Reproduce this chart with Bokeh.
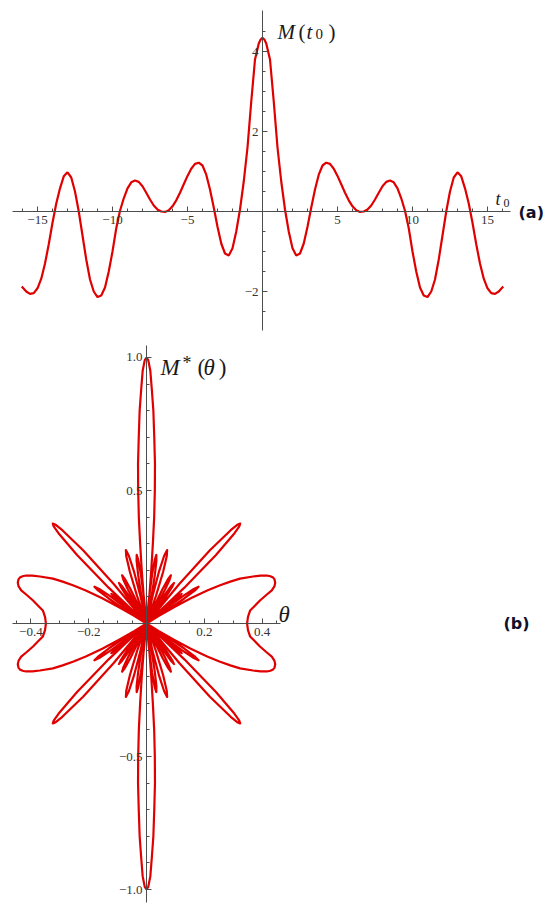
import numpy as np
from bokeh.plotting import figure
from bokeh.layouts import column
from bokeh.models import Label, FixedTicker, Range1d
from bokeh.embed import file_html
from bokeh.resources import INLINE

# ---------------- Panel (a): M(t0) ----------------
t0 = [-16.05, -15.75, -15.5, -15.25, -15.0, -14.75, -14.5, -14.25, -14.0, -13.75, -13.5, -13.25,
      -13.0, -12.75, -12.5, -12.25, -12.0, -11.75, -11.5, -11.25, -11.0, -10.75, -10.5, -10.25,
      -10.0, -9.75, -9.5, -9.25, -9.0, -8.75, -8.5, -8.25, -8.0, -7.75, -7.5, -7.25, -7.0, -6.75,
      -6.5, -6.25, -6.0, -5.75, -5.5, -5.25, -5.0, -4.75, -4.5, -4.25, -4.0, -3.75, -3.5, -3.25,
      -3.0, -2.75, -2.5, -2.25, -2.0, -1.75, -1.5, -1.25, -1.0, -0.75, -0.5, -0.25, -0.125, 0.0,
      0.125, 0.25, 0.5, 0.75, 1.0, 1.25, 1.5, 1.75, 2.0, 2.25, 2.5, 2.75, 3.0, 3.25, 3.5, 3.75,
      4.0, 4.25, 4.5, 4.75, 5.0, 5.25, 5.5, 5.75, 6.0, 6.25, 6.5, 6.75, 7.0, 7.25, 7.5, 7.75, 8.0,
      8.25, 8.5, 8.75, 9.0, 9.25, 9.5, 9.75, 10.0, 10.25, 10.5, 10.75, 11.0, 11.25, 11.5, 11.75,
      12.0, 12.25, 12.5, 12.75, 13.0, 13.25, 13.5, 13.75, 14.0, 14.25, 14.5, 14.75, 15.0, 15.25,
      15.5, 15.75, 16.05]
M_t0 = [-1.875, -2.0, -2.06, -2.04, -1.92, -1.68, -1.3, -0.82, -0.28, 0.2, 0.58, 0.88,
        0.98, 0.85, 0.5, 0.0, -0.6, -1.2, -1.7, -2.0, -2.14, -2.1, -1.9, -1.5,
        -1.0, -0.42, 0.02, 0.33, 0.58, 0.73, 0.775, 0.74, 0.63, 0.47, 0.3, 0.15, 0.05, 0.0,
        -0.01, 0.03, 0.13, 0.28, 0.47, 0.68, 0.89, 1.07, 1.19, 1.22, 1.15, 0.92, 0.55, 0.1,
        -0.38, -0.8, -1.05, -1.1, -0.92, -0.5, 0.05, 0.75, 1.6, 2.75, 3.8, 4.2, 4.3, 4.34,
        4.3, 4.2, 3.8, 2.75, 1.6, 0.75, 0.05, -0.5, -0.92, -1.1, -1.05, -0.8, -0.38, 0.1, 0.55, 0.92,
        1.15, 1.22, 1.19, 1.07, 0.89, 0.68, 0.47, 0.28, 0.13, 0.03, -0.01, 0.0, 0.05, 0.15, 0.3, 0.47, 0.63,
        0.74, 0.775, 0.73, 0.58, 0.33, 0.02, -0.42, -1.0, -1.5, -1.9, -2.1, -2.14, -2.0, -1.7, -1.2,
        -0.6, 0.0, 0.5, 0.85, 0.98, 0.88, 0.58, 0.2, -0.28, -0.82, -1.3, -1.68, -1.92, -2.04,
        -2.06, -2.0, -1.875]
a_xticks = [-15, -10, -5, 5, 10, 15]
a_yticks = [-2, 2, 4]

# ---------------- Panel (b): M*(theta), traced in the first quadrant ----------------
# polar trace (angle in degrees, radius); the figure is symmetric
# about both axes.
b_theta = [
    # broad side lobe with notch on the theta-axis
    0, 4, 7.8, 10, 12.4, 14.5, 16, 17.5, 19, 20.5, 21.5, 22.5, 23.4, 24.5, 25.6, 27.5, 28.5,
    29.5, 30.6, 31.7, 32.8, 34, 35,
    # petal ~37.5 deg
    34.0, 34.9, 35.75, 36.6, 37.5, 38.4, 39.25, 40.1, 41.0,
    # petal ~42.5 deg
    39.5, 40.25, 41.0, 41.75, 42.5, 43.25, 44.0, 44.75, 45.5,
    # long petal ~49 deg
    44.7, 45.8, 46.95, 48.1, 48.65, 49.2, 49.75, 50.3, 51.45, 52.6, 53.7,
    # petal ~58 deg
    55.0, 55.75, 56.5, 57.25, 58.0, 58.75, 59.5, 60.25, 61.0,
    # petal ~65 deg
    61.5, 62.4, 63.25, 64.1, 65.0, 65.9, 66.75, 67.6, 68.5,
    # petal ~75.5 deg
    71.5, 72.5, 73.5, 74.5, 75.5, 76.5, 77.5, 78.5, 79.5,
    # petal ~82.5 deg
    79.5, 80.25, 81.0, 81.75, 82.5, 83.25, 84.0, 84.75, 85.5,
    # main vertical lobe
    84.0, 84.5, 85.3, 85.8, 86.2, 86.7, 87.2, 87.8, 88.3, 88.8, 89.2, 89.65, 90.0]
b_r = [
    0.348, 0.352, 0.362, 0.38, 0.402, 0.428, 0.451, 0.464, 0.471, 0.473, 0.471, 0.464, 0.454,
    0.434, 0.409, 0.365, 0.33, 0.29, 0.244, 0.18, 0.111, 0.05, 0.0,
    0.0, 0.086, 0.161, 0.209, 0.227, 0.209, 0.161, 0.086, 0.0,
    0.0, 0.063, 0.117, 0.152, 0.165, 0.152, 0.117, 0.063, 0.0,
    0.0, 0.188, 0.352, 0.456, 0.486, 0.496, 0.486, 0.456, 0.352, 0.188, 0.0,
    0.0, 0.068, 0.128, 0.166, 0.18, 0.166, 0.128, 0.068, 0.0,
    0.0, 0.076, 0.142, 0.184, 0.2, 0.184, 0.142, 0.076, 0.0,
    0.0, 0.108, 0.202, 0.262, 0.285, 0.262, 0.202, 0.108, 0.0,
    0.0, 0.099, 0.185, 0.239, 0.26, 0.239, 0.185, 0.099, 0.0,
    0.0, 0.1, 0.2, 0.3, 0.4, 0.5, 0.6, 0.7, 0.8, 0.88, 0.95, 0.99, 1.0]
b_xticks = [-0.4, -0.2, 0.2, 0.4]
b_yticks = [-1.0, -0.5, 0.5, 1.0]

RED = "#e00000"
AXIS = "#4d4d4d"
TICKTXT = "#333333"
SERIF = "Liberation Serif"


def style_axes(p, xb, yb, xt, xminor, yt, yminor, xlabels, ylabels, fs):
    p.xaxis.fixed_location = 0
    p.yaxis.fixed_location = 0
    p.xaxis.bounds = xb
    p.yaxis.bounds = yb
    p.xaxis.ticker = FixedTicker(ticks=xt, minor_ticks=xminor)
    p.yaxis.ticker = FixedTicker(ticks=yt, minor_ticks=yminor)
    p.xaxis.major_label_overrides = xlabels
    p.yaxis.major_label_overrides = ylabels
    for ax in (p.xaxis, p.yaxis):
        ax.axis_line_color = AXIS
        ax.axis_line_width = 1
        ax.major_tick_line_color = AXIS
        ax.minor_tick_line_color = AXIS
        ax.major_tick_in = 5
        ax.major_tick_out = 0
        ax.minor_tick_in = 3
        ax.minor_tick_out = 0
        ax.major_label_text_font = SERIF
        ax.major_label_text_font_size = fs
        ax.major_label_text_color = TICKTXT
        ax.major_label_standoff = 4
    p.grid.visible = False
    p.outline_line_color = None


def lab(p, x, y, text, size, style="normal", font=SERIF, color="#1a1a1a", baseline="alphabetic"):
    p.add_layout(Label(x=x, y=y, text=text, text_font=font, text_font_size=size,
                       text_font_style=style, text_color=color, text_align="left",
                       text_baseline=baseline))


# ---- figure (a)  (page x = 15*t + 262, page y = 211 - 40*M)
pa = figure(width=548, height=340, x_range=Range1d(-17.467, 19.067),
            y_range=Range1d(-3.225, 5.275), output_backend="svg", toolbar_location=None,
            min_border=0, min_border_left=0, min_border_right=0, min_border_top=0,
            min_border_bottom=0)
style_axes(pa, (-16.67, 16.53), (-2.975, 5.025),
           a_xticks, [v for v in range(-16, 17)],
           a_yticks, [v * 0.5 for v in range(-5, 10)],
           {v: str(v).replace("-", "\u2212") for v in a_xticks},
           {v: str(v).replace("-", "\u2212") for v in a_yticks}, "13px")
pa.line(t0, M_t0, line_color=RED, line_width=2.2)
lab(pa, 1.0, 4.48, "M", "21px", "italic")
lab(pa, 2.4, 4.48, "(", "21px")
lab(pa, 2.93, 4.48, "t", "21px", "italic")
lab(pa, 3.53, 4.45, "0", "15px")
lab(pa, 4.4, 4.48, ")", "21px")
lab(pa, 15.53, 0.325, "t", "18px", "italic")
lab(pa, 16.07, 0.225, "0", "12px")
lab(pa, 17.07, -0.03, "(a)", "16px", "bold", "DejaVu Sans", "#10102a", "middle")

# ---- figure (b)  (page x = 146 + 289*x, page y = 623 - 266*y)
pb = figure(width=548, height=568, x_range=Range1d(-0.5052, 1.391),
            y_range=Range1d(-1.0714, 1.0639), output_backend="svg", toolbar_location=None,
            min_border=0, min_border_left=0, min_border_right=0, min_border_top=0,
            min_border_bottom=0)
style_axes(pb, (-0.464, 0.464), (-1.049, 1.045),
           b_xticks, [round(v * 0.05, 2) for v in range(-9, 10)],
           b_yticks, [round(v * 0.1, 1) for v in range(-10, 11)],
           {v: ("%.1f" % v).replace("-", "\u2212") for v in b_xticks},
           {v: ("%.1f" % v).replace("-", "\u2212") for v in b_yticks}, "13px")

th = np.radians(np.array(b_theta))
rr = np.array(b_r)
qx = rr * np.cos(th)
qy = rr * np.sin(th)
for sx, sy in ((1, 1), (-1, 1), (-1, -1), (1, -1)):
    pb.line(sx * qx, sy * qy, line_color=RED, line_width=2.2, line_join="round")

lab(pb, 0.0484, 0.962, "M", "23px", "italic")
lab(pb, 0.1246, 0.981, "*", "18px")
lab(pb, 0.1765, 0.962, "(", "23px")
lab(pb, 0.197, 0.962, "\u03b8", "23px", "italic")
lab(pb, 0.25, 0.962, ")", "23px")
lab(pb, 0.457, 0.034, "\u03b8", "23px", "italic")
lab(pb, 1.235, 0.0, "(b)", "16px", "bold", "DejaVu Sans", "#10102a", "middle")

layout = column(pa, pb, spacing=0)
open("out.html", "w").write(file_html(layout, INLINE))
